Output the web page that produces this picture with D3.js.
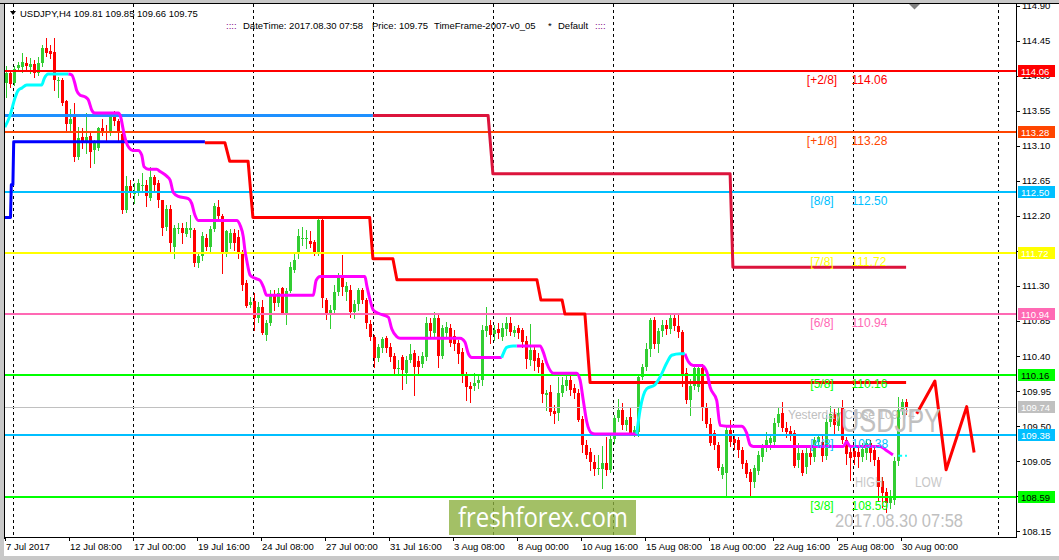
<!DOCTYPE html>
<meta charset="utf-8">
<title>USDJPY,H4</title>
<style>
  body { margin: 0; background: #fff; }
  svg { display: block; font-family: "Liberation Sans", Arial, sans-serif; }
</style>
<body>
<script src="https://d3js.org/d3.v7.min.js"></script>
<script>

// ---- candles, H4 bars from 7 Jul 2017 16:00 to 30 Aug 2017 04:00 ----
let opens = [
  113.90,114.04,113.90,114.10,114.11,114.16,114.11,114.15,114.03,114.16,
  114.35,114.32,114.31,113.93,113.94,113.68,113.38,113.49,112.95,113.21,
  113.13,113.22,113.04,113.07,113.33,113.28,113.28,113.47,113.42,113.25,
  112.27,112.58,112.48,112.49,112.58,112.59,112.43,112.70,112.62,112.40,
  112.06,112.29,111.80,112.04,112.05,111.97,112.02,112.02,111.59,111.68,
  111.91,111.80,112.03,112.32,112.20,111.73,111.85,111.98,111.93,111.73,
  111.34,111.05,111.11,110.89,111.03,110.67,110.82,111.18,111.08,111.27,
  110.95,111.24,111.50,111.72,111.90,111.90,111.88,111.87,111.72,112.15,
  111.12,110.95,110.99,111.22,111.41,111.22,111.25,110.96,111.07,111.25,
  111.12,110.81,110.64,110.37,110.50,110.63,110.52,110.40,110.23,110.39,
  110.18,110.35,110.44,110.34,110.30,110.39,110.82,110.70,110.89,110.40,
  110.69,110.76,110.66,110.57,110.45,110.16,110.01,110.01,110.06,110.09,
  110.72,110.80,110.68,110.75,110.65,110.75,110.82,110.70,110.76,110.73,
  110.59,110.35,110.48,110.37,110.31,109.90,109.94,109.70,109.67,109.92,
  110.01,110.09,109.99,109.93,109.59,109.26,109.17,109.04,108.95,108.95,
  109.03,108.94,109.33,109.60,109.71,109.51,109.62,109.41,109.43,110.13,
  110.26,110.49,110.86,110.55,110.72,110.80,110.75,110.89,110.79,110.71,
  110.18,109.84,110.02,110.00,110.25,109.75,109.53,109.41,109.26,108.87,
  108.90,109.45,109.33,109.32,109.19,109.03,108.91,108.78,108.93,109.10,
  109.23,109.28,109.30,109.54,109.67,109.48,109.44,109.41,109.07,109.15,
  108.98,109.16,109.11,109.30,109.30,109.12,109.55,109.66,109.50,109.73,
  109.32,109.17,109.18,109.17,109.10,109.15,109.28,109.19,109.06,108.80,
  108.66,108.51,108.55,109.05,109.71,109.81
];
let highs = [
  114.12,114.07,114.12,114.17,114.29,114.24,114.23,114.20,114.24,114.39,
  114.48,114.39,114.48,113.98,113.97,113.69,113.57,113.65,113.34,113.33,
  113.52,113.26,113.17,113.34,113.45,113.37,113.49,113.55,113.45,113.29,
  112.71,112.66,112.62,112.67,112.75,112.66,112.83,112.72,112.66,112.40,
  112.34,112.34,112.08,112.11,112.11,112.12,112.21,112.04,111.73,111.99,
  111.97,112.07,112.37,112.40,112.22,112.02,112.03,112.03,112.02,111.76,
  111.38,111.16,111.21,111.09,111.12,110.86,111.25,111.25,111.27,111.29,
  111.27,111.61,111.73,112.03,112.06,112.02,112.01,111.89,112.17,112.17,
  111.14,111.05,111.31,111.46,111.70,111.35,111.31,111.12,111.27,111.28,
  111.15,110.86,110.67,110.55,110.65,110.66,110.57,110.44,110.35,110.41,
  110.40,110.55,110.48,110.40,110.45,110.90,110.89,110.97,110.93,110.80,
  110.84,110.81,110.73,110.60,110.50,110.19,110.07,110.18,110.16,110.80,
  111.03,110.86,110.80,110.82,110.83,110.90,110.90,110.78,110.80,110.76,
  110.66,110.81,110.54,110.44,110.35,109.96,110.03,109.77,110.13,110.13,
  110.16,110.14,110.04,109.98,109.63,109.32,109.22,109.13,109.13,109.24,
  109.36,109.40,109.64,109.85,109.80,109.62,109.75,109.50,110.16,110.30,
  110.57,110.89,110.90,110.76,110.86,110.86,110.94,110.94,110.94,110.74,
  110.25,110.10,110.27,110.29,110.30,109.80,109.60,109.45,109.30,109.02,
  109.50,109.58,109.40,109.36,109.23,109.07,108.95,109.00,109.18,109.27,
  109.42,109.40,109.60,109.74,109.81,109.55,109.50,109.45,109.28,109.19,
  109.22,109.22,109.36,109.40,109.38,109.64,109.76,109.72,109.73,109.83,
  109.36,109.22,109.24,109.25,109.28,109.33,109.32,109.24,109.10,108.85,
  108.70,108.68,109.10,109.88,109.85,109.85
];
let lows = [
  113.73,113.85,113.88,114.07,114.05,114.07,114.03,113.98,114.01,114.12,
  114.25,114.23,113.81,113.72,113.62,113.30,113.30,112.90,112.93,113.07,
  113.01,112.83,112.88,113.04,113.24,113.15,113.24,113.37,113.15,112.24,
  112.25,112.44,112.36,112.47,112.53,112.33,112.40,112.53,112.32,111.95,
  112.02,111.74,111.66,111.98,111.85,111.94,111.93,111.55,111.54,111.63,
  111.76,111.74,112.00,112.15,111.46,111.68,111.79,111.76,111.66,111.25,
  111.03,111.03,110.73,110.84,110.68,110.60,110.80,110.99,111.04,110.94,
  110.81,111.22,111.48,111.66,111.82,111.79,111.80,111.70,111.70,111.03,
  110.87,110.76,110.95,111.18,111.18,111.12,110.90,110.89,110.99,111.08,
  110.76,110.60,110.26,110.33,110.45,110.45,110.34,110.18,110.16,109.98,
  110.06,110.32,109.90,110.16,110.26,110.35,110.63,110.66,110.26,110.37,
  110.63,110.53,110.48,110.31,110.07,109.84,109.81,109.96,109.99,110.03,
  110.66,110.57,110.60,110.63,110.60,110.67,110.67,110.66,110.63,110.52,
  110.24,110.28,110.22,110.19,109.81,109.71,109.64,109.54,109.58,109.89,
  109.96,109.90,109.86,109.56,109.17,109.09,108.94,108.87,108.88,108.70,
  108.87,108.91,109.28,109.56,109.46,109.45,109.38,109.37,109.37,110.10,
  110.22,110.40,110.50,110.45,110.66,110.68,110.70,110.73,110.65,110.01,
  109.80,109.64,109.98,109.95,109.58,109.49,109.26,109.20,108.94,108.83,
  108.59,109.25,109.20,109.10,108.96,108.85,108.61,108.72,108.88,109.05,
  109.18,109.20,109.26,109.50,109.44,109.36,109.32,108.97,108.97,108.87,
  108.90,109.02,109.05,109.25,109.05,109.08,109.50,109.40,109.45,109.28,
  109.02,108.81,109.02,108.97,109.05,109.08,109.05,109.00,108.55,108.46,
  108.40,108.45,108.50,109.00,109.66,109.66
];
let closes = [
  114.04,113.89,114.08,114.14,114.17,114.12,114.15,114.03,114.16,114.35,
  114.29,114.28,113.94,113.94,113.65,113.38,113.44,112.96,113.20,113.15,
  113.21,113.02,113.13,113.33,113.28,113.26,113.47,113.42,113.26,112.27,
  112.58,112.49,112.52,112.62,112.59,112.45,112.70,112.60,112.40,112.04,
  112.29,111.85,112.04,112.05,111.98,112.04,112.04,111.59,111.68,111.94,
  111.80,112.03,112.33,112.20,111.73,112.01,111.98,111.85,111.72,111.31,
  111.04,111.10,110.89,111.03,110.69,110.82,111.18,111.08,111.21,110.95,
  111.24,111.54,111.63,111.94,111.92,111.91,111.84,111.74,112.15,111.14,
  110.95,110.99,111.22,111.40,111.29,111.30,110.97,111.07,111.25,111.12,
  110.82,110.65,110.37,110.51,110.62,110.50,110.39,110.23,110.25,110.22,
  110.35,110.42,110.26,110.26,110.40,110.82,110.72,110.89,110.40,110.76,
  110.77,110.57,110.55,110.42,110.16,110.00,109.98,110.06,110.09,110.73,
  110.78,110.67,110.73,110.70,110.76,110.82,110.71,110.73,110.69,110.58,
  110.36,110.48,110.33,110.26,109.91,109.93,109.68,109.66,109.92,110.03,
  110.09,109.96,109.92,109.58,109.26,109.13,109.04,108.95,108.96,109.03,
  108.94,109.33,109.60,109.71,109.51,109.58,109.41,109.45,110.13,110.26,
  110.49,110.86,110.55,110.72,110.80,110.75,110.89,110.79,110.71,110.15,
  109.84,110.02,110.24,110.25,109.75,109.53,109.28,109.26,108.96,108.97,
  109.45,109.30,109.28,109.19,109.02,108.89,108.78,108.96,109.13,109.23,
  109.32,109.35,109.54,109.66,109.48,109.43,109.39,108.99,109.15,108.90,
  109.16,109.11,109.32,109.36,109.12,109.55,109.66,109.51,109.67,109.32,
  109.14,109.09,109.11,109.10,109.20,109.28,109.15,109.06,108.72,108.64,
  108.51,108.58,109.05,109.71,109.81,109.75
];

// ---- Murrey math levels ----
let levelPrices = [114.06, 113.28, 112.50, 111.72, 110.94, 110.16, 109.38, 108.59];
let levelNames  = ['[+2/8]', '[+1/8]', '[8/8]', '[7/8]', '[6/8]', '[5/8]', '[4/8]', '[3/8]'];
let levelColors = ['#ff0000', '#ff4500', '#00bfff', '#ffff00', '#ff69b4', '#00ff00', '#00bfff', '#00ff00'];
let yesterdayClose = 109.74;

// ---- indicator lines, [bar, price] vertices ----
let blueLine = [[-0.4,112.18],[1.0,112.18],[1.2,112.60],[1.6,112.60],[1.8,113.15],[49.6,113.15]];
let redLine = [[49.6,113.14],[54.6,113.14],[55.8,112.90],[60.4,112.90],[61.6,112.18],[90.8,112.18],
  [91.6,111.65],[96.6,111.65],[97.6,111.38],[132.6,111.38],[133.6,111.12],[138.9,111.12],
  [139.6,110.94],[144.6,110.94],[145.9,110.06],[224.9,110.06]];
let dodgerLine = [[-0.4,113.49],[91.6,113.49]];
let crimsonLine = [[91.6,113.49],[120.4,113.49],[121.6,112.74],[180.9,112.74],[181.6,111.54],[224.9,111.54]];

let trendUp = [
  [[-0.4,113.34],[0.9,113.49],[2.1,113.71],[2.9,113.81],[3.8,113.84],[5.05,113.88],[8.8,113.88],
   [9.4,113.96],[10.45,114.02],[15.45,114.02]],
  [[123.8,110.38],[124.2,110.43],[125.05,110.51],[126.7,110.53],[127.55,110.53]],
  [[157.55,109.40],[158.4,109.71],[160.05,109.98],[162.1,110.03],[163.4,110.13],[165.05,110.31],
   [166.3,110.41],[168.4,110.43],[169.6,110.43]]
];
let trendDown = [
  [[15.45,114.02],[16.3,114.01],[17.1,113.90],[17.55,113.81],[18.4,113.75],[19.6,113.73],[20.45,113.69],
   [21.3,113.56],[22.1,113.52],[27.95,113.52],[28.55,113.47],[29.2,113.30],[29.9,113.15],[30.7,113.07],
   [31.55,113.04],[32.95,113.04],[33.8,112.98],[34.4,112.83],[35.45,112.80],[37.55,112.80],[38.4,112.77],
   [40.05,112.71],[40.9,112.66],[41.7,112.50],[42.95,112.45],[45.45,112.42],[46.3,112.36],[47.1,112.21],
   [47.95,112.14],[57.55,112.14],[58.4,112.08],[59.2,111.93],[59.6,111.76],[60.05,111.63],[60.9,111.44],
   [62.1,111.40],[63.4,111.37],[64.2,111.29],[65.05,111.18],[76.7,111.18],[77.4,111.37],[78.4,111.42],
   [89.6,111.42],[90.05,111.31],[90.9,111.12],[91.7,110.99],[92.95,110.95],[95.45,110.90],[96.3,110.75],
   [97.55,110.65],[98.4,110.63],[113.4,110.63],[114.6,110.58],[115.45,110.43],[116.3,110.38],[123.8,110.38]],
  [[127.55,110.53],[133.4,110.53],[134.2,110.45],[135.05,110.31],[136.7,110.18],[142.55,110.18],
   [143.4,110.09],[144.2,109.83],[145.05,109.56],[146.3,109.41],[147.1,109.40],[157.55,109.40]],
  [[169.6,110.43],[170.45,110.33],[171.7,110.28],[173.8,110.28],[175.05,110.20],[175.9,110.00],
   [177.55,109.83],[178.4,109.51],[180.05,109.50],[183.8,109.50],[185.05,109.41],[185.9,109.26],
   [186.7,109.24],[209.2,109.24],[210.05,109.30],[210.9,109.24],[218.4,109.24],[219.9,109.19],[221.6,109.13]]
];
let trendTail = [[222.9,109.12],[225.1,109.12]];
let projection = [[227.55,109.66],[232.1,110.08],[234.9,108.94],[240.05,109.75],[241.9,109.16]];

// ---- axes ----
let priceTicks = [114.90,114.45,114.00,113.55,113.10,112.65,112.20,111.75,111.30,110.85,110.40,109.95,109.50,109.05,108.60,108.15];
let timeBars   = [0,16,32,48,64,80,96,112,128,144,160,176,192,208,224];
let timeLabels = ['7 Jul 2017','12 Jul 08:00','17 Jul 00:00','19 Jul 16:00','24 Jul 08:00','27 Jul 00:00',
  '31 Jul 16:00','3 Aug 08:00','8 Aug 00:00','10 Aug 16:00','15 Aug 08:00','18 Aug 00:00',
  '22 Aug 16:00','25 Aug 08:00','30 Aug 00:00'];
let weekBars = [2, 32, 62, 92, 122, 152, 182, 212, 248.25];

let W = 1059, H = 560;
let plot = { left: 5, right: 1016, top: 4, bottom: 537 };

let x = d3.scaleLinear().domain([0, 225]).range([6.5, 906.5]);
let y = d3.scaleLinear().domain([108.59, 114.06]).range([497, 71]);

let svg = d3.select('body').append('svg')
    .attr('width', W)
    .attr('height', H);

// window frame
svg.append('rect').attr('width', W).attr('height', H).attr('fill', '#c8c8c8');
svg.append('rect')
    .attr('x', 4).attr('y', 3)
    .attr('width', W - 4).attr('height', 553)
    .attr('fill', '#fff');
svg.append('line').attr('x1', 0).attr('x2', W).attr('y1', 3.5).attr('y2', 3.5).attr('stroke', '#000');
svg.append('line').attr('x1', 4.5).attr('x2', 4.5).attr('y1', 3).attr('y2', plot.bottom + 2).attr('stroke', '#000');

let defs = svg.append('defs');
defs.append('clipPath').attr('id', 'plotclip')
  .append('rect')
    .attr('x', plot.left).attr('y', plot.top)
    .attr('width', plot.right - plot.left).attr('height', plot.bottom - plot.top);

let g = svg.append('g').attr('clip-path', 'url(#plotclip)');

// weekly separators
g.selectAll('.week')
  .data(weekBars)
  .enter().append('line')
    .attr('class', 'week')
    .attr('x1', d => Math.round(x(d) - 1.5) + 0.5)
    .attr('x2', d => Math.round(x(d) - 1.5) + 0.5)
    .attr('y1', plot.top)
    .attr('y2', plot.bottom)
    .attr('stroke', '#000')
    .attr('stroke-dasharray', '3,3');

// candles
let bars = d3.range(opens.length);
let cg = g.append('g').attr('shape-rendering', 'crispEdges');
let candle = cg.selectAll('.candle')
  .data(bars)
  .enter().append('g')
    .attr('class', 'candle')
    .attr('fill', i => closes[i] >= opens[i] ? '#32cd32' : '#ff0000')
    .attr('stroke', i => closes[i] >= opens[i] ? '#32cd32' : '#ff0000');
candle.append('line')
    .attr('x1', i => Math.floor(x(i)) + 0.5)
    .attr('x2', i => Math.floor(x(i)) + 0.5)
    .attr('y1', i => Math.round(y(highs[i])))
    .attr('y2', i => Math.round(y(lows[i])) + 1);
candle.append('rect')
    .attr('stroke', 'none')
    .attr('x', i => Math.floor(x(i)) - 1)
    .attr('width', 3)
    .attr('y', i => Math.round(y(Math.max(opens[i], closes[i]))))
    .attr('height', i => Math.max(1, Math.round(y(Math.min(opens[i], closes[i]))) - Math.round(y(Math.max(opens[i], closes[i])))));

// murrey levels
g.selectAll('.level')
  .data(levelPrices)
  .enter().append('line')
    .attr('class', 'level')
    .attr('x1', plot.left).attr('x2', plot.right)
    .attr('y1', d => Math.round(y(d)))
    .attr('y2', d => Math.round(y(d)))
    .attr('stroke', (d, i) => levelColors[i])
    .attr('stroke-width', 2);
g.append('line')
    .attr('x1', plot.left).attr('x2', plot.right)
    .attr('y1', Math.round(y(yesterdayClose)) + 0.5)
    .attr('y2', Math.round(y(yesterdayClose)) + 0.5)
    .attr('stroke', '#c0c0c0');

// indicator lines
let path = d3.line().x(d => x(d[0])).y(d => y(d[1]));
let smooth = d3.line().x(d => x(d[0])).y(d => y(d[1])).curve(d3.curveMonotoneX);

function draw(points, color, gen) {
  g.append('path')
      .attr('d', (gen || path)(points))
      .attr('fill', 'none')
      .attr('stroke', color)
      .attr('stroke-width', 3)
      .attr('stroke-linejoin', 'round');
}
draw(dodgerLine, '#1e90ff');
draw(crimsonLine, '#dc143c');
draw(blueLine, '#0000ff');
draw(redLine, '#ff0000');
trendDown.forEach(s => draw(s, '#ff00ff', smooth));
trendUp.forEach(s => draw(s, '#00ffff', smooth));
g.append('path')
    .attr('d', path(trendTail))
    .attr('fill', 'none')
    .attr('stroke', '#00ffff')
    .attr('stroke-width', 2)
    .attr('stroke-dasharray', '4,3');
draw(projection, '#ff0000');

// level captions
let cap = g.selectAll('.cap')
  .data(levelPrices)
  .enter().append('g')
    .attr('class', 'cap')
    .attr('fill', (d, i) => levelColors[i])
    .style('font-size', '12px');
cap.append('text')
    .attr('x', 822)
    .attr('y', d => Math.round(y(d)) + 12.5)
    .attr('text-anchor', 'middle')
    .text((d, i) => levelNames[i]);
cap.append('text')
    .attr('x', 851.5)
    .attr('y', d => Math.round(y(d)) + 12.5)
    .text(d => d.toFixed(2));

// chart objects
g.append('text')
    .attr('x', 788).attr('y', y(yesterdayClose) + 12)
    .attr('fill', '#c0c0c0')
    .style('font-size', '12px')
    .text('Yesterday Close ' + yesterdayClose.toFixed(2));
g.append('text')
    .attr('x', 841).attr('y', 432)
    .attr('fill', '#c0c0c0')
    .attr('textLength', 100).attr('lengthAdjust', 'spacingAndGlyphs')
    .style('font-size', '34px')
    .text('USDJPY');
g.append('text')
    .attr('x', 855).attr('y', 487)
    .attr('fill', '#c8c8c8')
    .attr('textLength', 28).attr('lengthAdjust', 'spacingAndGlyphs')
    .style('font-size', '14px')
    .text('HIGH');
g.append('text')
    .attr('x', 915).attr('y', 487)
    .attr('fill', '#c8c8c8')
    .attr('textLength', 27).attr('lengthAdjust', 'spacingAndGlyphs')
    .style('font-size', '14px')
    .text('LOW');
g.append('text')
    .attr('x', 835).attr('y', 527)
    .attr('fill', '#c0c0c0')
    .attr('textLength', 128).attr('lengthAdjust', 'spacingAndGlyphs')
    .style('font-size', '19px')
    .text('2017.08.30 07:58');

// watermark
g.append('rect')
    .attr('x', 449).attr('y', 500)
    .attr('width', 187).attr('height', 35)
    .attr('fill', '#8cb040')
    .attr('fill-opacity', 0.8);
g.append('text')
    .attr('x', 458).attr('y', 527)
    .attr('fill', '#fff')
    .attr('textLength', 170).attr('lengthAdjust', 'spacingAndGlyphs')
    .style('font-family', '"Open Sans", sans-serif')
    .style('font-size', '27px')
    .text('freshforex.com');

// chart shift marker
svg.append('path')
    .attr('d', 'M909,4 L920,4 L914.5,9.5 Z')
    .attr('fill', '#808080');

// header
svg.append('path')
    .attr('d', 'M10,11 L16,11 L13,15 Z')
    .attr('fill', '#000');
svg.append('text')
    .attr('x', 20).attr('y', 16.5)
    .style('font-size', '9.5px')
    .text('USDJPY,H4  109.81 109.85 109.66 109.75');

let info = [
  [226, '::::', '#800080'],
  [243, 'DateTime: 2017.08.30 07:58', '#000'],
  [372, 'Price: 109.75', '#000'],
  [434, 'TimeFrame-2007-v0_05', '#000'],
  [548, '*', '#000'],
  [558, 'Default', '#000'],
  [595, '::::', '#800080']
];
svg.selectAll('.info')
  .data(info)
  .enter().append('text')
    .attr('class', 'info')
    .attr('x', d => d[0]).attr('y', 28.5)
    .attr('fill', d => d[2])
    .style('font-size', '9.5px')
    .text(d => d[1]);

// price axis
svg.append('line')
    .attr('x1', plot.right + 0.5).attr('x2', plot.right + 0.5)
    .attr('y1', 3).attr('y2', plot.bottom + 1)
    .attr('stroke', '#000');
let yAxis = svg.append('g').style('font-size', '9.5px');
yAxis.selectAll('.ptick')
  .data(priceTicks)
  .enter().append('line')
    .attr('x1', plot.right).attr('x2', plot.right + 4)
    .attr('y1', d => Math.round(y(d)) + 0.5)
    .attr('y2', d => Math.round(y(d)) + 0.5)
    .attr('stroke', '#000');
yAxis.selectAll('.plabel')
  .data(priceTicks)
  .enter().append('text')
    .attr('x', 1022)
    .attr('y', d => y(d) + 3.5)
    .text(d => d.toFixed(2));

let boxPrices = levelPrices.concat([yesterdayClose]);
let boxColors = levelColors.concat(['#c0c0c0']);
let box = yAxis.selectAll('.pbox')
  .data(boxPrices)
  .enter().append('g')
    .attr('class', 'pbox');
box.append('rect')
    .attr('x', 1018).attr('width', 37)
    .attr('y', d => Math.round(y(d)) - 6)
    .attr('height', 12)
    .attr('fill', (d, i) => boxColors[i]);
box.append('text')
    .attr('x', 1021)
    .attr('y', d => Math.round(y(d)) + 3.5)
    .attr('fill', (d, i) => boxColors[i] === '#00ff00' ? '#000' : '#fff')
    .text(d => d.toFixed(2));

// time axis
svg.append('line')
    .attr('x1', plot.left).attr('x2', plot.right + 1)
    .attr('y1', plot.bottom + 0.5).attr('y2', plot.bottom + 0.5)
    .attr('stroke', '#000');
let xAxis = svg.append('g').style('font-size', '9.5px');
xAxis.selectAll('.ttick')
  .data(timeBars)
  .enter().append('line')
    .attr('x1', d => Math.round(x(d) - 1.5) + 0.5)
    .attr('x2', d => Math.round(x(d) - 1.5) + 0.5)
    .attr('y1', plot.bottom).attr('y2', plot.bottom + 4)
    .attr('stroke', '#000');
xAxis.selectAll('.tlabel')
  .data(timeBars)
  .enter().append('text')
    .attr('x', d => Math.round(x(d) - 1.5) + 1)
    .attr('y', 550)
    .text((d, i) => timeLabels[i]);

</script>
</body>
